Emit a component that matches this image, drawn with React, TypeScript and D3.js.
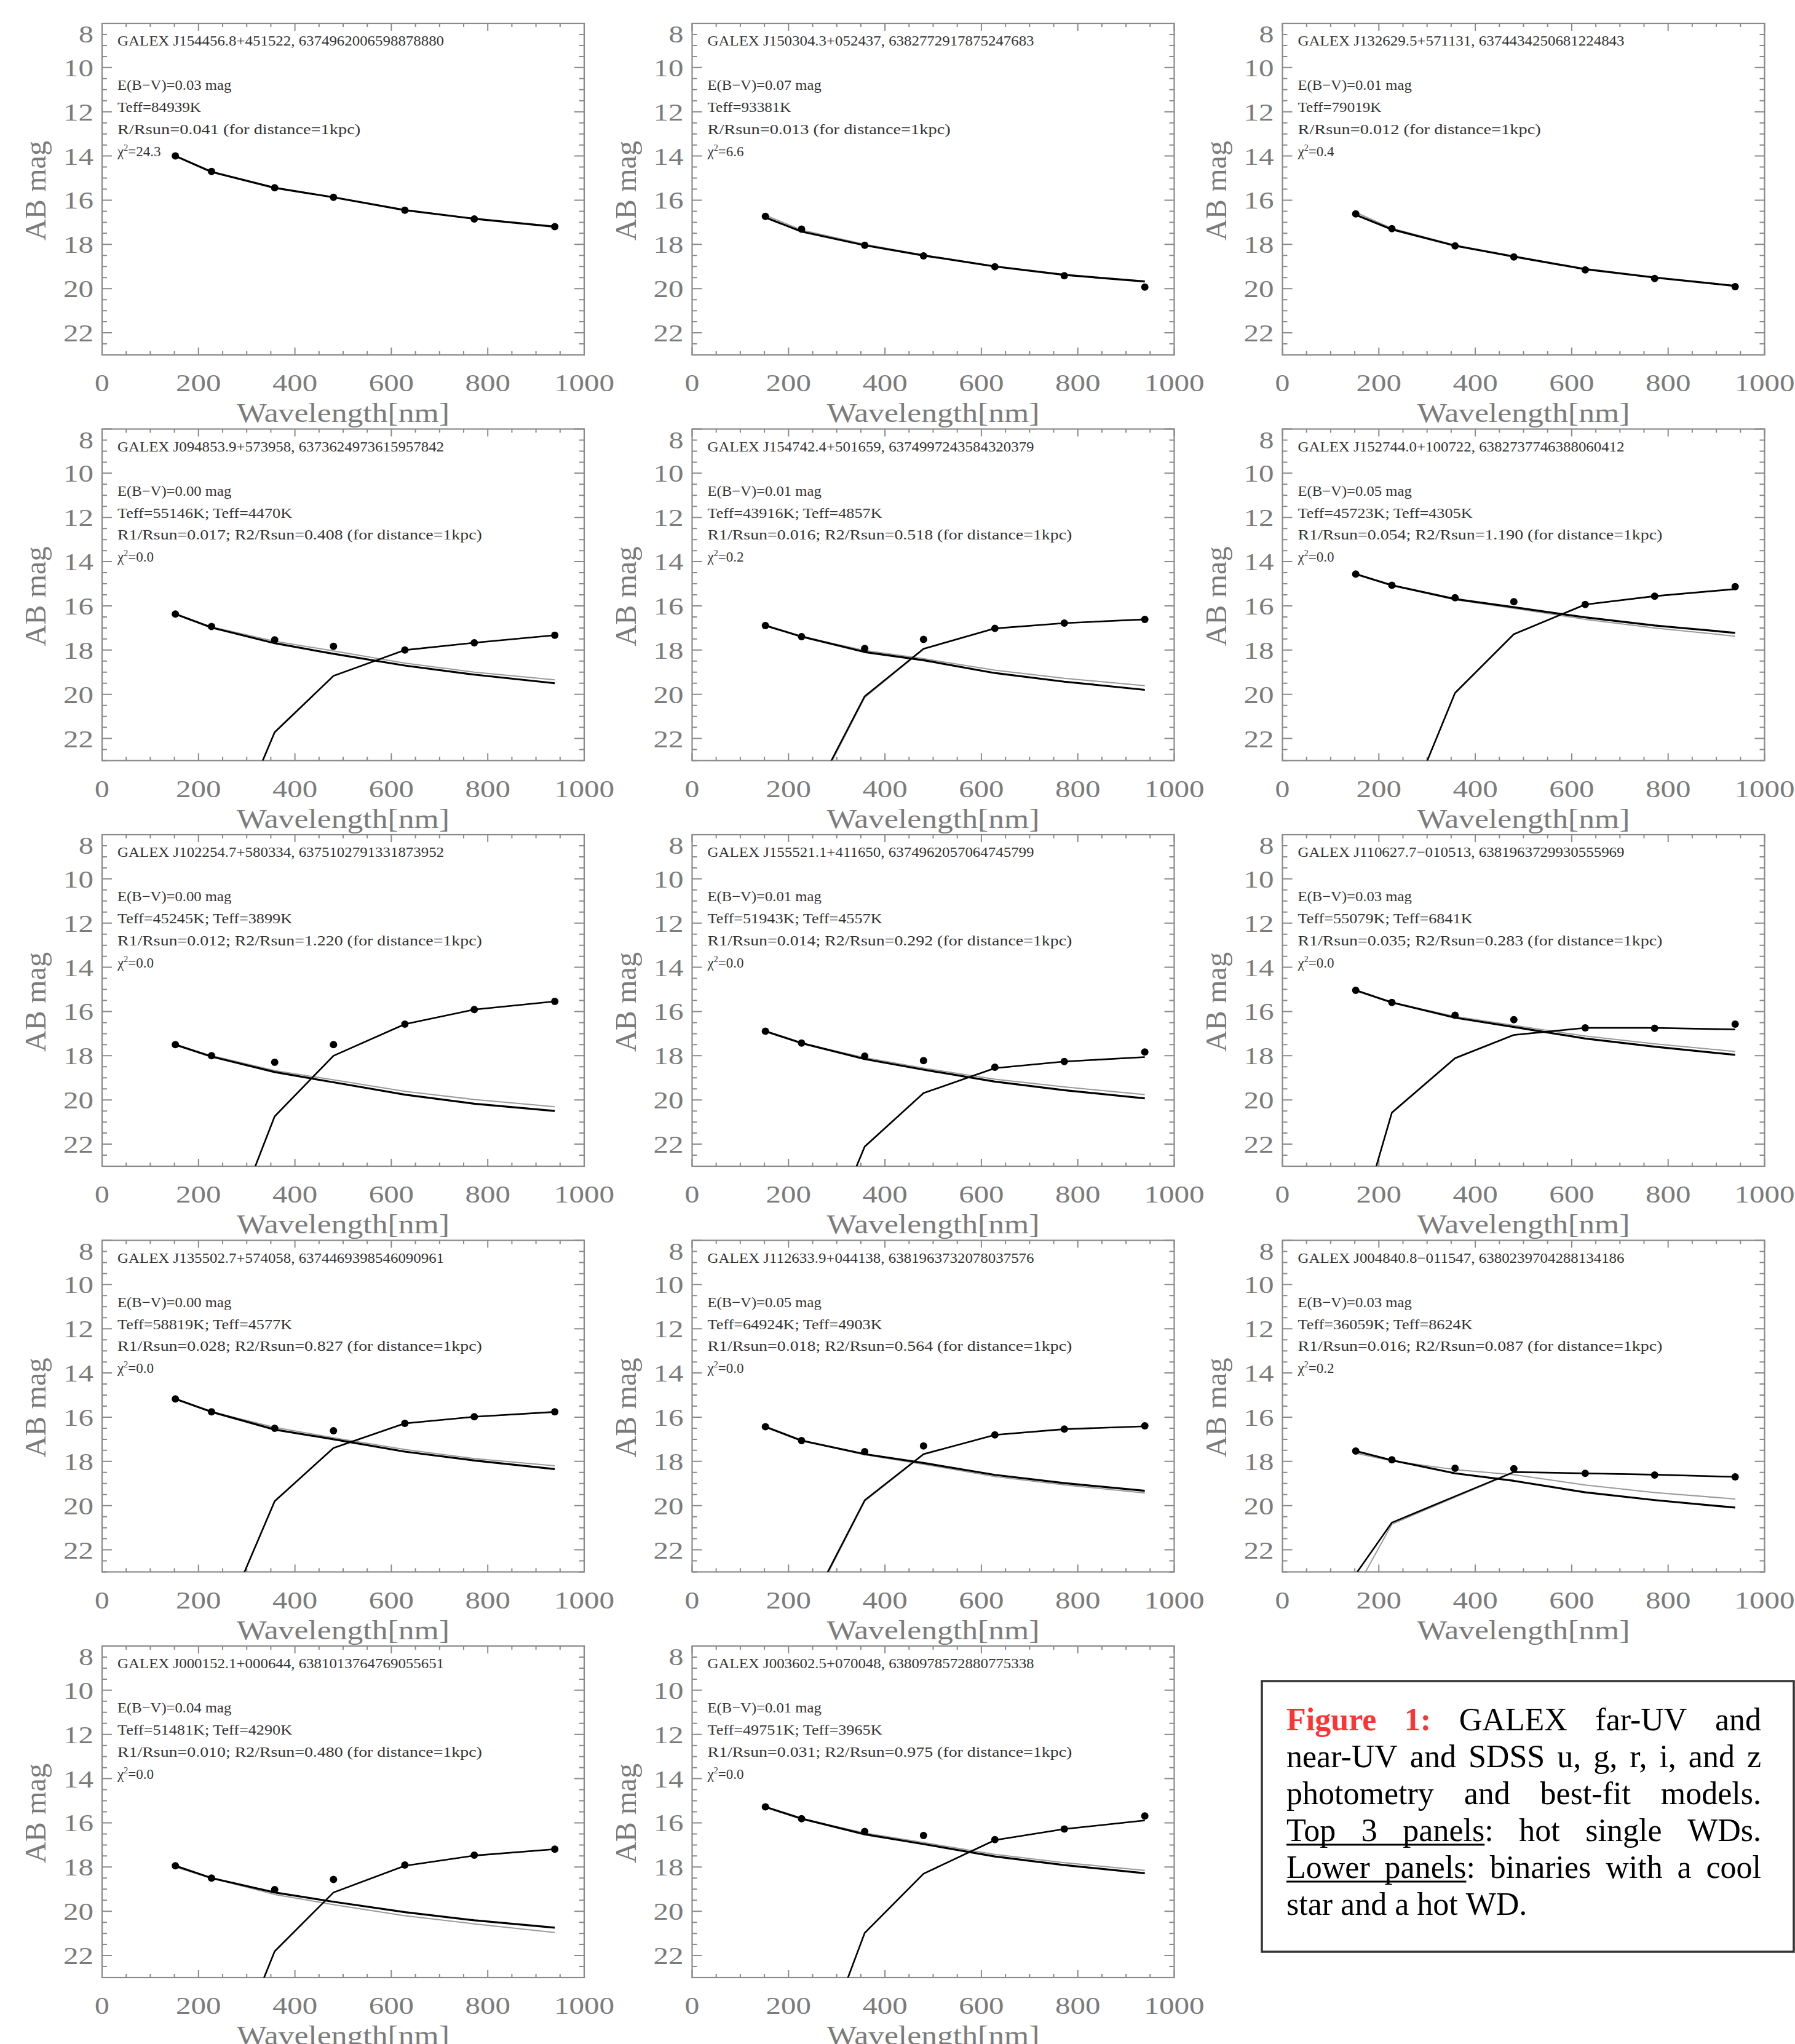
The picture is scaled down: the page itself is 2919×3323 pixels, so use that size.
import React, { useMemo } from "react";
import * as d3 from "d3";

// ---------------- data ----------------
const wavelengths = [152, 227, 358, 480, 628, 772, 939];

const galexNames = [
  "J154456.8+451522", "J150304.3+052437", "J132629.5+571131",
  "J094853.9+573958", "J154742.4+501659", "J152744.0+100722",
  "J102254.7+580334", "J155521.1+411650", "J110627.7\u2212010513",
  "J135502.7+574058", "J112633.9+044138", "J004840.8\u2212011547",
  "J000152.1+000644", "J003602.5+070048",
];
const gaiaIds = [
  "6374962006598878880", "6382772917875247683", "6374434250681224843",
  "6373624973615957842", "6374997243584320379", "6382737746388060412",
  "6375102791331873952", "6374962057064745799", "6381963729930555969",
  "6374469398546090961", "6381963732078037576", "6380239704288134186",
  "6381013764769055651", "6380978572880775338",
];
const ebv = ["0.03", "0.07", "0.01", "0.00", "0.01", "0.05", "0.00", "0.01", "0.03", "0.00", "0.05", "0.03", "0.04", "0.01"];
const teffHot = ["84939", "93381", "79019", "55146", "43916", "45723", "45245", "51943", "55079", "58819", "64924", "36059", "51481", "49751"];
const teffCool = [null, null, null, "4470", "4857", "4305", "3899", "4557", "6841", "4577", "4903", "8624", "4290", "3965"];
const radiusHot = ["0.041", "0.013", "0.012", "0.017", "0.016", "0.054", "0.012", "0.014", "0.035", "0.028", "0.018", "0.016", "0.010", "0.031"];
const radiusCool = [null, null, null, "0.408", "0.518", "1.190", "1.220", "0.292", "0.283", "0.827", "0.564", "0.087", "0.480", "0.975"];
const chiSquare = ["24.3", "6.6", "0.4", "0.0", "0.2", "0.0", "0.0", "0.0", "0.0", "0.0", "0.0", "0.2", "0.0", "0.0"];

// observed photometry (FUV, NUV, u, g, r, i, z) AB mag
const observedMag = [
  [14.0, 14.7, 15.44, 15.87, 16.45, 16.85, 17.2],
  [16.73, 17.31, 18.04, 18.52, 19.01, 19.42, 19.93],
  [16.62, 17.29, 18.07, 18.57, 19.15, 19.54, 19.91],
  [16.37, 16.93, 17.54, 17.83, 18.0, 17.67, 17.33],
  [16.89, 17.39, 17.93, 17.52, 17.02, 16.78, 16.61],
  [14.56, 15.07, 15.63, 15.81, 15.94, 15.56, 15.13],
  [17.5, 18.0, 18.3, 17.5, 16.57, 15.91, 15.54],
  [16.89, 17.43, 18.02, 18.22, 18.52, 18.26, 17.83],
  [15.04, 15.59, 16.17, 16.37, 16.74, 16.76, 16.57],
  [15.17, 15.76, 16.5, 16.61, 16.28, 15.98, 15.76],
  [16.43, 17.06, 17.56, 17.3, 16.8, 16.54, 16.39],
  [17.53, 17.93, 18.31, 18.33, 18.54, 18.62, 18.7],
  [17.94, 18.5, 19.02, 18.56, 17.91, 17.46, 17.19],
  [15.28, 15.81, 16.39, 16.57, 16.76, 16.28, 15.69],
];

// hot WD best-fit model (black)
const wdModelMag = [
  [14.0, 14.72, 15.44, 15.87, 16.45, 16.84, 17.2],
  [16.78, 17.42, 18.04, 18.5, 19.0, 19.38, 19.68],
  [16.66, 17.32, 18.06, 18.55, 19.12, 19.5, 19.88],
  [16.37, 16.98, 17.69, 18.17, 18.7, 19.11, 19.5],
  [16.89, 17.39, 18.09, 18.46, 19.04, 19.43, 19.8],
  [14.56, 15.07, 15.69, 16.06, 16.52, 16.89, 17.22],
  [17.5, 18.04, 18.74, 19.2, 19.76, 20.17, 20.5],
  [16.89, 17.43, 18.15, 18.63, 19.17, 19.56, 19.93],
  [15.04, 15.59, 16.28, 16.7, 17.22, 17.59, 17.96],
  [15.17, 15.76, 16.56, 17.0, 17.56, 17.96, 18.35],
  [16.43, 17.06, 17.67, 18.07, 18.61, 18.98, 19.33],
  [17.53, 17.95, 18.54, 18.88, 19.4, 19.75, 20.09],
  [17.94, 18.5, 19.15, 19.57, 20.04, 20.41, 20.74],
  [15.28, 15.81, 16.52, 16.96, 17.52, 17.91, 18.28],
];

// hot WD alternative model (grey)
const wdModelAltMag = [
  [14.0, 14.7, 15.43, 15.86, 16.44, 16.83, 17.18],
  [16.68, 17.35, 18.0, 18.48, 18.98, 19.36, 19.66],
  [16.55, 17.28, 18.03, 18.53, 19.1, 19.48, 19.86],
  [16.37, 16.95, 17.6, 18.04, 18.59, 19.0, 19.35],
  [16.89, 17.39, 18.02, 18.39, 18.91, 19.28, 19.61],
  [14.56, 15.07, 15.72, 16.11, 16.61, 17.0, 17.37],
  [17.5, 18.0, 18.67, 19.09, 19.61, 19.98, 20.31],
  [16.89, 17.43, 18.09, 18.56, 19.06, 19.41, 19.76],
  [15.04, 15.59, 16.22, 16.63, 17.11, 17.46, 17.81],
  [15.17, 15.76, 16.46, 16.93, 17.46, 17.87, 18.2],
  [16.43, 17.06, 17.7, 18.13, 18.69, 19.06, 19.43],
  [17.63, 17.98, 18.37, 18.6, 19.07, 19.41, 19.7],
  [18.0, 18.5, 19.24, 19.7, 20.2, 20.57, 20.96],
  [15.28, 15.81, 16.46, 16.89, 17.43, 17.8, 18.15],
];

// cool companion model (black)
const coolModelMag = [
  null, null, null,
  [33.0, 28.5, 21.72, 19.17, 18.0, 17.67, 17.33],
  [30.0, 25.6, 20.09, 17.94, 17.02, 16.78, 16.61],
  [31.0, 26.9, 19.94, 17.28, 15.94, 15.56, 15.24],
  [33.0, 28.1, 20.74, 18.0, 16.57, 15.91, 15.54],
  [34.0, 29.0, 22.11, 19.69, 18.56, 18.26, 18.06],
  [26.2, 20.57, 18.11, 17.06, 16.74, 16.74, 16.81],
  [31.0, 26.5, 19.8, 17.39, 16.28, 15.98, 15.76],
  [30.0, 25.3, 19.76, 17.67, 16.8, 16.54, 16.41],
  [23.1, 20.77, 19.58, 18.48, 18.54, 18.6, 18.7],
  [34.0, 28.9, 21.81, 19.15, 17.94, 17.48, 17.19],
  [34.0, 28.6, 20.98, 18.3, 16.78, 16.28, 15.89],
];

// cool companion alternative model (grey)
const coolModelAltMag = [
  null, null, null,
  [33.0, 28.4, 21.7, 19.15, 18.0, 17.66, 17.32],
  [30.0, 25.7, 20.15, 17.96, 17.03, 16.79, 16.62],
  [31.0, 26.9, 19.96, 17.29, 15.95, 15.57, 15.25],
  [33.0, 28.1, 20.76, 18.01, 16.58, 15.92, 15.55],
  [34.0, 29.0, 22.13, 19.7, 18.57, 18.27, 18.07],
  [26.2, 20.6, 18.13, 17.07, 16.75, 16.75, 16.82],
  [31.0, 26.5, 19.82, 17.4, 16.29, 15.99, 15.77],
  [30.0, 25.4, 19.8, 17.69, 16.81, 16.55, 16.42],
  [23.8, 20.84, 19.62, 18.5, 18.55, 18.61, 18.71],
  [34.0, 28.9, 21.83, 19.16, 17.95, 17.49, 17.2],
  [34.0, 28.6, 21.0, 18.31, 16.79, 16.29, 15.9],
];

const xTickValues = [0, 200, 400, 600, 800, 1000];
const yTickValues = [8, 10, 12, 14, 16, 18, 20, 22];
const xLabel = "Wavelength[nm]";
const yLabel = "AB mag";

const captionLines = [
  "Figure 1: GALEX far-UV and",
  "near-UV and SDSS u, g, r, i, and z",
  "photometry and best-fit models.",
  "Top 3 panels: hot single WDs.",
  "Lower panels: binaries with a cool",
  "star and a hot WD.",
];

// ---------------- layout ----------------
const WIDTH = 2919;
const HEIGHT = 3323;
const COL_LEFT = [166, 1125.5, 2085.5];
const ROW_TOP = [38, 697.5, 1357, 2016.5, 2676];
const PW = 784;
const PH = 539;
const SERIF = "'Liberation Serif', 'DejaVu Serif', serif";
const AXIS_GRAY = "#7b7b7b";
const FRAME_GRAY = "#8a8a8a";

function Panel({ idx }: { idx: number }) {
  const left = COL_LEFT[idx % 3];
  const top = ROW_TOP[Math.floor(idx / 3)];
  const right = left + PW;
  const bottom = top + PH;
  const x = d3.scaleLinear().domain([0, 1000]).range([left, right]);
  const y = d3.scaleLinear().domain([8, 23]).range([top, bottom]);
  const line = d3
    .line<number>()
    .x((_, k) => x(wavelengths[k]))
    .y((v) => y(v));

  const xMinor = d3.range(0, 1000.001, 50);
  const yMinor = d3.range(8, 23.001, 0.5);
  let ticks = "";
  xMinor.forEach((v) => {
    const major = v % 200 === 0;
    const L = major ? 12 : 6;
    const px = x(v);
    ticks += `M${px},${bottom}V${bottom - L}M${px},${top}V${top + L}`;
  });
  yMinor.forEach((v) => {
    const major = Math.abs(v % 2) < 1e-6;
    const L = major ? 16 : 8;
    const py = y(v);
    ticks += `M${left},${py}H${left + L}M${right},${py}H${right - L}`;
  });

  const annX = left + 25;
  const annLines = [
    { txt: `GALEX ${galexNames[idx]}, ${gaiaIds[idx]}`, v: 8.8 },
    { txt: `E(B\u2212V)=${ebv[idx]} mag`, v: 10.8 },
    {
      txt: teffCool[idx] ? `Teff=${teffHot[idx]}K; Teff=${teffCool[idx]}K` : `Teff=${teffHot[idx]}K`,
      v: 11.8,
    },
    {
      txt: radiusCool[idx]
        ? `R1/Rsun=${radiusHot[idx]}; R2/Rsun=${radiusCool[idx]} (for distance=1kpc)`
        : `R/Rsun=${radiusHot[idx]} (for distance=1kpc)`,
      v: 12.8,
    },
  ];
  const chiTxt = `=${chiSquare[idx]}`;
  const clipId = `clip-${idx}`;
  const cool = coolModelMag[idx];
  const coolAlt = coolModelAltMag[idx];

  return (
    <g>
      <defs>
        <clipPath id={clipId}>
          <rect x={left} y={top} width={PW} height={PH} />
        </clipPath>
      </defs>
      <path d={ticks} stroke={FRAME_GRAY} strokeWidth={2} fill="none" />
      <rect x={left} y={top} width={PW} height={PH} fill="none" stroke={FRAME_GRAY} strokeWidth={2.2} />

      {/* y tick labels */}
      {yTickValues.map((v) => {
        const s = String(v);
        const len = s.length * 25 - 1;
        const cy = v === 8 ? top + 17 : y(v);
        return (
          <text
            key={`yl${v}`}
            x={left - 14 - len}
            y={cy + 14}
            fontFamily={SERIF}
            fontSize={41}
            fill={AXIS_GRAY}
            textLength={len}
            lengthAdjust="spacingAndGlyphs"
          >
            {s}
          </text>
        );
      })}
      {/* x tick labels */}
      {xTickValues.map((v) => {
        const s = String(v);
        const len = s.length * 24.8 - 1;
        return (
          <text
            key={`xl${v}`}
            x={x(v) - len / 2}
            y={bottom + 59}
            fontFamily={SERIF}
            fontSize={41}
            fill={AXIS_GRAY}
            textLength={len}
            lengthAdjust="spacingAndGlyphs"
          >
            {s}
          </text>
        );
      })}
      <text
        x={(left + right) / 2 - 173}
        y={bottom + 109}
        fontFamily={SERIF}
        fontSize={44}
        fill={AXIS_GRAY}
        textLength={346}
        lengthAdjust="spacingAndGlyphs"
      >
        {xLabel}
      </text>
      <text
        transform={`translate(${left - 92},${top + 272}) rotate(-90)`}
        x={-81}
        y={0}
        fontFamily={SERIF}
        fontSize={48}
        fill={AXIS_GRAY}
        textLength={162}
        lengthAdjust="spacingAndGlyphs"
      >
        {yLabel}
      </text>

      {/* annotations */}
      {annLines.map((l, k) => (
        <text
          key={`a${k}`}
          x={annX}
          y={y(l.v) + 7.5}
          fontFamily={SERIF}
          fontSize={23}
          fill="#333"
          textLength={l.txt.length * 12.35}
          lengthAdjust="spacingAndGlyphs"
        >
          {l.txt}
        </text>
      ))}
      <text x={annX} y={y(13.8) + 7.5} fontFamily={SERIF} fontSize={23} fill="#333">
        {"\u03C7"}
        <tspan fontSize={14} dy={-9}>
          2
        </tspan>
        <tspan dy={9}>{chiTxt}</tspan>
      </text>

      {/* models */}
      <g clipPath={`url(#${clipId})`} fill="none" strokeLinejoin="round">
        <path d={line(wdModelAltMag[idx]) || ""} stroke="#9a9a9a" strokeWidth={2} />
        {coolAlt && <path d={line(coolAlt) || ""} stroke="#9a9a9a" strokeWidth={2} />}
        <path d={line(wdModelMag[idx]) || ""} stroke="#000" strokeWidth={3.2} />
        {cool && <path d={line(cool) || ""} stroke="#000" strokeWidth={2.6} />}
      </g>
      {observedMag[idx].map((v, k) => (
        <circle key={`p${k}`} cx={x(wavelengths[k])} cy={y(v)} r={6} fill="#000" />
      ))}
    </g>
  );
}

function Caption() {
  const left = 2092;
  const right = 2864;
  const fontSize = 52;
  const layout = useMemo(() => {
    const canvas = document.createElement("canvas");
    const ctx = canvas.getContext("2d");
    const measure = (t: string, bold: boolean) => {
      if (!ctx) return t.length * fontSize * 0.45;
      ctx.font = `${bold ? "bold " : ""}${fontSize}px 'Liberation Serif'`;
      return ctx.measureText(t).width;
    };
    const spaceW = measure(" ", false);
    return captionLines.map((lineText, li) => {
      const words = lineText.split(" ");
      const bolds = words.map((_, wi) => li === 0 && wi < 2);
      const widths = words.map((w, wi) => measure(w, bolds[wi]));
      const total = widths.reduce((a, b) => a + b, 0);
      const last = li === captionLines.length - 1;
      const gap = last ? spaceW : (right - left - total) / (words.length - 1);
      let cx = left;
      const placed = words.map((w, wi) => {
        const item = { w, x: cx, width: widths[wi], bold: bolds[wi] };
        cx += widths[wi] + gap;
        return item;
      });
      // underline spans
      let ul: [number, number] | null = null;
      if (li === 3) {
        const pw = measure("panels", false);
        ul = [placed[0].x, placed[2].x + pw];
      } else if (li === 4) {
        const pw = measure("panels", false);
        ul = [placed[0].x, placed[1].x + pw];
      }
      return { placed, ul };
    });
  }, []);
  const base0 = 2813;
  const step = 60;
  return (
    <g>
      <rect x={2052} y={2733} width={865} height={440} fill="none" stroke="#333" strokeWidth={3.5} />
      {layout.map((ln, li) => (
        <g key={`c${li}`}>
          {ln.placed.map((p, wi) => (
            <text
              key={`w${wi}`}
              x={p.x}
              y={base0 + li * step}
              fontFamily={SERIF}
              fontSize={fontSize}
              fontWeight={p.bold ? "bold" : "normal"}
              fill={p.bold ? "#ff3333" : "#000"}
            >
              {p.w}
            </text>
          ))}
          {ln.ul && (
            <line
              x1={ln.ul[0]}
              x2={ln.ul[1]}
              y1={base0 + li * step + 6}
              y2={base0 + li * step + 6}
              stroke="#000"
              strokeWidth={3}
            />
          )}
        </g>
      ))}
    </g>
  );
}

export default function App() {
  const panels = d3.range(observedMag.length);
  return (
    <svg
      width={WIDTH}
      height={HEIGHT}
      viewBox={`0 0 ${WIDTH} ${HEIGHT}`}
      style={{ position: "absolute", left: 0, top: 0, display: "block", background: "#fff" }}
    >
      <rect x={0} y={0} width={WIDTH} height={HEIGHT} fill="#fff" />
      {panels.map((i) => (
        <Panel key={i} idx={i} />
      ))}
      <Caption />
    </svg>
  );
}
